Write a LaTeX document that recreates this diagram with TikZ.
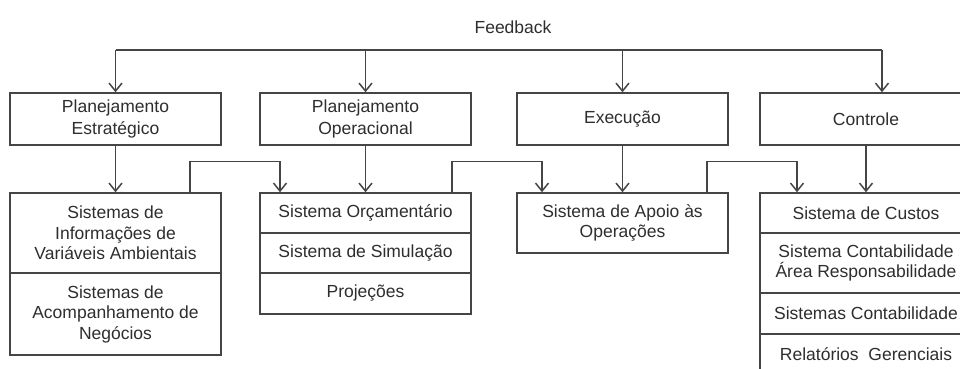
\documentclass[tikz,border=0pt]{standalone}
\usepackage{fontspec}
\setmainfont{Liberation Sans}
\usetikzlibrary{arrows.meta}
\definecolor{ln}{HTML}{454545}
\definecolor{tx}{HTML}{2E2E2E}
\begin{document}
\begin{tikzpicture}[x=1pt,y=-1pt,
  every node/.style={text=tx,font=\fontsize{17.5}{20.5}\selectfont},
  box/.style={draw=ln,line width=1.5pt,align=center,inner sep=0pt,minimum width=211pt},
  tbox/.style={box,minimum height=52pt,font=\fontsize{17.5}{22}\selectfont},
  arr/.style={draw=ln,line width=1.5pt,-{Straight Barb[length=8pt,width=13pt,line width=1.5pt]}},
  ln/.style={draw=ln,line width=1.5pt}]
\clip (0,0) rectangle (960,369);
\fill[white] (0,0) rectangle (960,369);
% Feedback
\node (fb) at (513,27) {Feedback};
\coordinate (bus) at (0,50);
% top boxes
\node[tbox] (b1) at (115.5,119) {Planejamento\\Estratégico};
\node[tbox] (b2) at (365.5,119) {Planejamento\\Operacional};
\node[tbox] (b3) at (622.5,119) {Execução};
\node[tbox,minimum width=212pt] (b4) at (866,119) {Controle};
% lower left
\node[box,minimum height=80pt] (la) at (115.5,233) {Sistemas de\\Informações de\\Variáveis Ambientais};
\node[box,minimum height=82pt] (lb) at (115.5,314) {Sistemas de\\Acompanhamento de\\Negócios};
% middle
\node[box,minimum height=40pt] (m1) at (365.5,213) {Sistema Orçamentário};
\node[box,minimum height=40pt] (m2) at (365.5,253) {Sistema de Simulação};
\node[box,minimum height=41pt] (m3) at (365.5,293.5) {Projeções};
% apoio
\node[box,minimum height=60pt] (ap) at (622.5,223) {Sistema de Apoio às\\Operações};
% right
\node[box,minimum height=40pt,minimum width=212pt] (r1) at (866,213) {Sistema de Custos};
\node[box,minimum height=60pt,minimum width=212pt] (r2) at (866,263) {Sistema Contabilidade\\Área Responsabilidade};
\node[box,minimum height=41pt,minimum width=212pt] (r3) at (866,313.5) {Sistemas Contabilidade};
\node[box,minimum height=41pt,minimum width=212pt] (r4) at (866,354.5) {Relatórios\ \ Gerenciais};
% feedback bus
\draw[ln] (b1.north |- bus) -- ([xshift=16pt]b4.north |- bus);
\draw[arr] (b1.north |- bus) -- (b1.north);
\draw[arr] (b2.north |- bus) -- (b2.north);
\draw[arr] (b3.north |- bus) -- (b3.north);
\draw[arr] ([xshift=16pt]b4.north |- bus) -- ([xshift=16pt]b4.north);
% vertical arrows
\draw[arr] (b1.south) -- (la.north);
\draw[arr] (b2.south) -- (m1.north);
\draw[arr] (b3.south) -- (ap.north);
\draw[arr] (b4.south) -- (r1.north);
% brackets
\draw[arr] ([xshift=74.5pt]la.north) -- ++(0,-31) -| ([xshift=-85.5pt]m1.north);
\draw[arr] ([xshift=86.5pt]m1.north) -- ++(0,-31) -| ([xshift=-80.5pt]ap.north);
\draw[arr] ([xshift=84.5pt]ap.north) -- ++(0,-31) -| ([xshift=-69pt]r1.north);
\end{tikzpicture}
\end{document}
